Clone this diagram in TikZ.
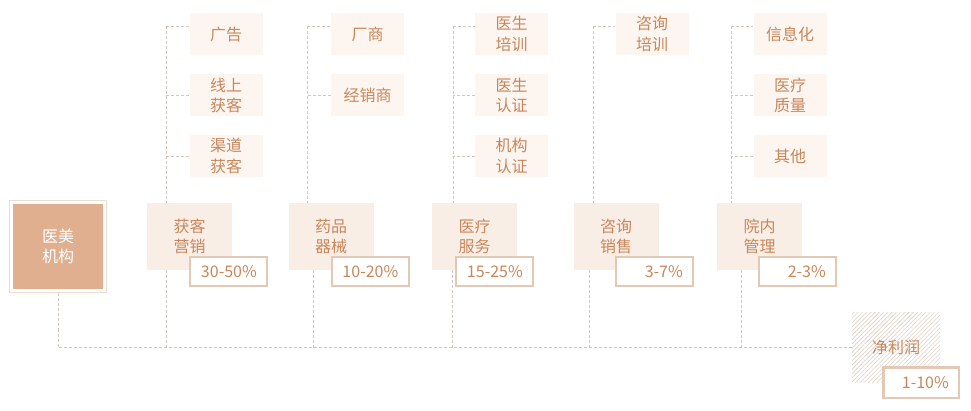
\documentclass[tikz,border=0pt]{standalone}
\usepackage{fontspec}
\setmainfont{Noto Sans CJK SC}
\usetikzlibrary{patterns.meta,shadows}
\definecolor{txt}{HTML}{C8875B}
\definecolor{mainfill}{HTML}{DFAF90}
\definecolor{catfill}{HTML}{F9EEE6}
\definecolor{subfill}{HTML}{FCF5F0}
\definecolor{pctborder}{HTML}{E3C9B5}
\definecolor{dashc}{HTML}{D3C7BF}
\definecolor{hatchc}{HTML}{E0D1C5}
\begin{document}
\begin{tikzpicture}[x=1pt,y=-1pt,
  every node/.style={font=\fontsize{16}{20.5}\selectfont, text=txt, inner sep=0pt, align=center},
  mainbox/.style={fill=mainfill, draw=white, line width=3pt, minimum width=93pt, minimum height=88pt, text=white,
    drop shadow={shadow xshift=0pt, shadow yshift=0pt, shadow scale=1.05, fill=pctborder, opacity=0.6}},
  catbox/.style={fill=catfill, minimum width=85pt, minimum height=67pt},
  subbox/.style={fill=subfill, minimum width=73pt, minimum height=42pt},
  pctbox/.style={fill=white, draw=pctborder, line width=2pt, minimum height=29pt, minimum width=77pt,
    drop shadow={shadow xshift=0.8pt, shadow yshift=-0.8pt, fill=pctborder, opacity=0.35}},
  pcttext/.style={label={[anchor=east, xshift=-11pt, text=txt]east:#1}},
  hatchbox/.style={pattern={Lines[angle=45,distance=3pt,line width=0.6pt]}, pattern color=hatchc, minimum width=88pt, minimum height=69pt},
  link/.style={draw=dashc, line width=0.8pt, dash pattern=on 3pt off 2pt}
]
\useasboundingbox[fill=white] (0,0) rectangle (971,411);

% main
\node[mainbox] (main) at (58,246.5) {医美\\机构};

% categories
\node[catbox] (cat1) at (189.5,236.5) {获客\\营销};
\node[catbox] (cat2) at (331,236.5) {药品\\器械};
\node[catbox] (cat3) at (474.5,236.5) {医疗\\服务};
\node[catbox] (cat4) at (616,236.5) {咨询\\销售};
\node[catbox] (cat5) at (759.5,236.5) {院内\\管理};

% percentages
\node[pctbox, pcttext={30-50\%}] (pct1) at (228.5,271.5) {};
\node[pctbox, pcttext={10-20\%}] (pct2) at (370,271.5) {};
\node[pctbox, pcttext={15-25\%}] (pct3) at (494.5,271.5) {};
\node[pctbox, pcttext={3-7\%}] (pct4) at (654.5,271.5) {};
\node[pctbox, pcttext={2-3\%}] (pct5) at (797.5,271.5) {};

% sub items
\node[subbox] (s11) at (226,34) {广告};
\node[subbox] (s12) at (226,95.5) {线上\\获客};
\node[subbox] (s13) at (226,156) {渠道\\获客};
\node[subbox] (s21) at (367.5,34) {厂商};
\node[subbox] (s22) at (367.5,95.5) {经销商};
\node[subbox] (s31) at (511.5,34) {医生\\培训};
\node[subbox] (s32) at (511.5,95.5) {医生\\认证};
\node[subbox] (s33) at (511.5,156) {机构\\认证};
\node[subbox] (s41) at (652,34) {咨询\\培训};
\node[subbox] (s51) at (790,34) {信息化};
\node[subbox] (s52) at (790,95.5) {医疗\\质量};
\node[subbox] (s53) at (790,156) {其他};

% net profit
\node[hatchbox] (profit) at (896,347.5) {净利润};
\node[pctbox, line width=2.5pt, minimum width=75.5pt, minimum height=30.5pt, pcttext={1-10\%}] (pctp) at (921,382.5) {};

% junction coordinates
\coordinate (u1) at (166,26);
\coordinate (u2) at (307,26);
\coordinate (u3) at (453,26);
\coordinate (u4) at (593,26);
\coordinate (u5) at (731,26);
\coordinate (d1) at (166,347.5);
\coordinate (d2) at (313,347.5);
\coordinate (d3) at (452,347.5);
\coordinate (d4) at (589,347.5);
\coordinate (d5) at (741,347.5);

% connectors
\begin{scope}[link]
\draw (u1) -- (u1 -| s11.west);
\draw (s12.west) -- (s12.west -| u1);
\draw (s13.west) -- (s13.west -| u1);
\draw (u1) -- (u1 |- cat1.north);
\draw (u2) -- (u2 -| s21.west);
\draw (s22.west) -- (s22.west -| u2);
\draw (u2) -- (u2 |- cat2.north);
\draw (u3) -- (u3 -| s31.west);
\draw (s32.west) -- (s32.west -| u3);
\draw (s33.west) -- (s33.west -| u3);
\draw (u3) -- (u3 |- cat3.north);
\draw (u4) -- (u4 -| s41.west);
\draw (u4) -- (u4 |- cat4.north);
\draw (u5) -- (u5 -| s51.west);
\draw (s52.west) -- (s52.west -| u5);
\draw (s53.west) -- (s53.west -| u5);
\draw (u5) -- (u5 |- cat5.north);
\draw (d1 |- cat1.south) -- (d1);
\draw (d2 |- cat2.south) -- (d2);
\draw (d3 |- cat3.south) -- (d3);
\draw (d4 |- cat4.south) -- (d4);
\draw (d5 |- cat5.south) -- (d5);
\draw ([yshift=-1.5pt]main.south) |- (profit.west);
\end{scope}
\end{tikzpicture}
\end{document}
